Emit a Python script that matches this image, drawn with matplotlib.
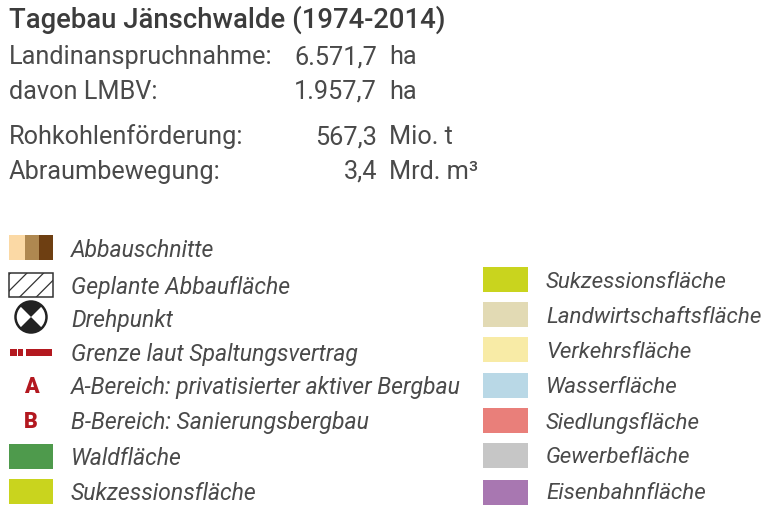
import matplotlib
matplotlib.use("Agg")
import matplotlib.pyplot as plt
from matplotlib.patches import Rectangle, Circle, Wedge

# Kopfzeile und Kennzahlen
title = "Tagebau Jänschwalde (1974-2014)"
stat_labels = ["Landinanspruchnahme:", "davon LMBV:", "Rohkohlenförderung:", "Abraumbewegung:"]
stat_values = ["6.571,7", "1.957,7", "567,3", "3,4"]
stat_units = ["ha", "ha", "Mio. t", "Mrd. m³"]

# Legende links
left_labels = ["Abbauschnitte", "Geplante Abbaufläche", "Drehpunkt",
               "Grenze laut Spaltungsvertrag", "A-Bereich: privatisierter aktiver Bergbau",
               "B-Bereich: Sanierungsbergbau", "Waldfläche", "Sukzessionsfläche"]
# Legende rechts
right_labels = ["Sukzessionsfläche", "Landwirtschaftsfläche", "Verkehrsfläche", "Wasserfläche",
                "Siedlungsfläche", "Gewerbefläche", "Eisenbahnfläche"]
right_colors = ["#C9D41E", "#E2DAB4", "#F8EBA6", "#B9D8E6", "#E97F7A", "#C6C6C6", "#A877B1"]

TEXT = "#4a4a4a"
RED = "#B3181F"

plt.rcParams['font.family'] = ['Roboto', 'DejaVu Sans']
plt.rcParams['hatch.linewidth'] = 0.9

fig = plt.figure(figsize=(7.68, 5.12), dpi=100)
ax = fig.add_axes([0, 0, 1, 1])
ax.set_xlim(0, 768)
ax.set_ylim(512, 0)
ax.axis('off')

# Kopf
ax.text(9, 28, title, fontsize=19.8, fontweight=500, color="#3c3c3c", va='baseline')
stat_y = [64, 99, 144, 179]
for y, lab, val, unit in zip(stat_y, stat_labels, stat_values, stat_units):
    ax.text(9, y, lab, fontsize=18.2, color=TEXT, va='baseline')
    ax.text(377, y, val, fontsize=18.2, color=TEXT, va='baseline', ha='right')
    ax.text(389, y, unit, fontsize=18.2, color=TEXT, va='baseline')

# Legende links, Texte
left_y = [257, 294, 327, 361, 394, 429, 465, 500]
for y, lab in zip(left_y, left_labels):
    ax.text(71, y, lab, fontsize=16.6, style='italic', color=TEXT, va='baseline')

# Abbauschnitte
ax.add_patch(Rectangle((9, 235), 16, 25, fc="#FBD9A5", ec='none'))
ax.add_patch(Rectangle((25, 235), 14, 25, fc="#AF8850", ec='none'))
ax.add_patch(Rectangle((39, 235), 14, 25, fc="#6E3F12", ec='none'))

# Geplante Abbaufläche
ax.add_patch(Rectangle((9, 273), 44, 24, fc='white', ec="#333333", lw=1.1, hatch='//'))

# Drehpunkt
ax.add_patch(Circle((31, 317), 15.5, fc='white', ec="#222222", lw=1.8))
ax.add_patch(Wedge((31, 317), 15, 45, 135, fc="#222222", ec='none'))
ax.add_patch(Wedge((31, 317), 15, 225, 315, fc="#222222", ec='none'))

# Grenze
ax.add_patch(Rectangle((10, 349), 7, 7, fc=RED, ec='none'))
ax.add_patch(Rectangle((18, 349), 5, 7, fc=RED, ec='none'))
ax.add_patch(Rectangle((26, 349), 26, 7, fc=RED, ec='none'))

# A und B
ax.text(31, 393, "A", fontsize=15.5, fontweight='black', color=RED, ha='center', va='baseline')
ax.text(31, 428, "B", fontsize=15.5, fontweight='black', color=RED, ha='center', va='baseline')

# Waldfläche, Sukzessionsfläche
ax.add_patch(Rectangle((9, 444), 44, 25, fc="#4E9A4C", ec='none'))
ax.add_patch(Rectangle((9, 479), 44, 25, fc="#C9D41E", ec='none'))

# Legende rechts
right_y = [267, 302, 337, 373, 408, 443, 480]
right_text_y = [288, 323, 358, 393, 429, 463, 499]
for y, ty, lab, col in zip(right_y, right_text_y, right_labels, right_colors):
    ax.add_patch(Rectangle((483, y), 45, 25, fc=col, ec='none'))
    ax.text(546, ty, lab, fontsize=16.1, style='italic', color=TEXT, va='baseline')

fig.savefig("out.png", dpi=100)
